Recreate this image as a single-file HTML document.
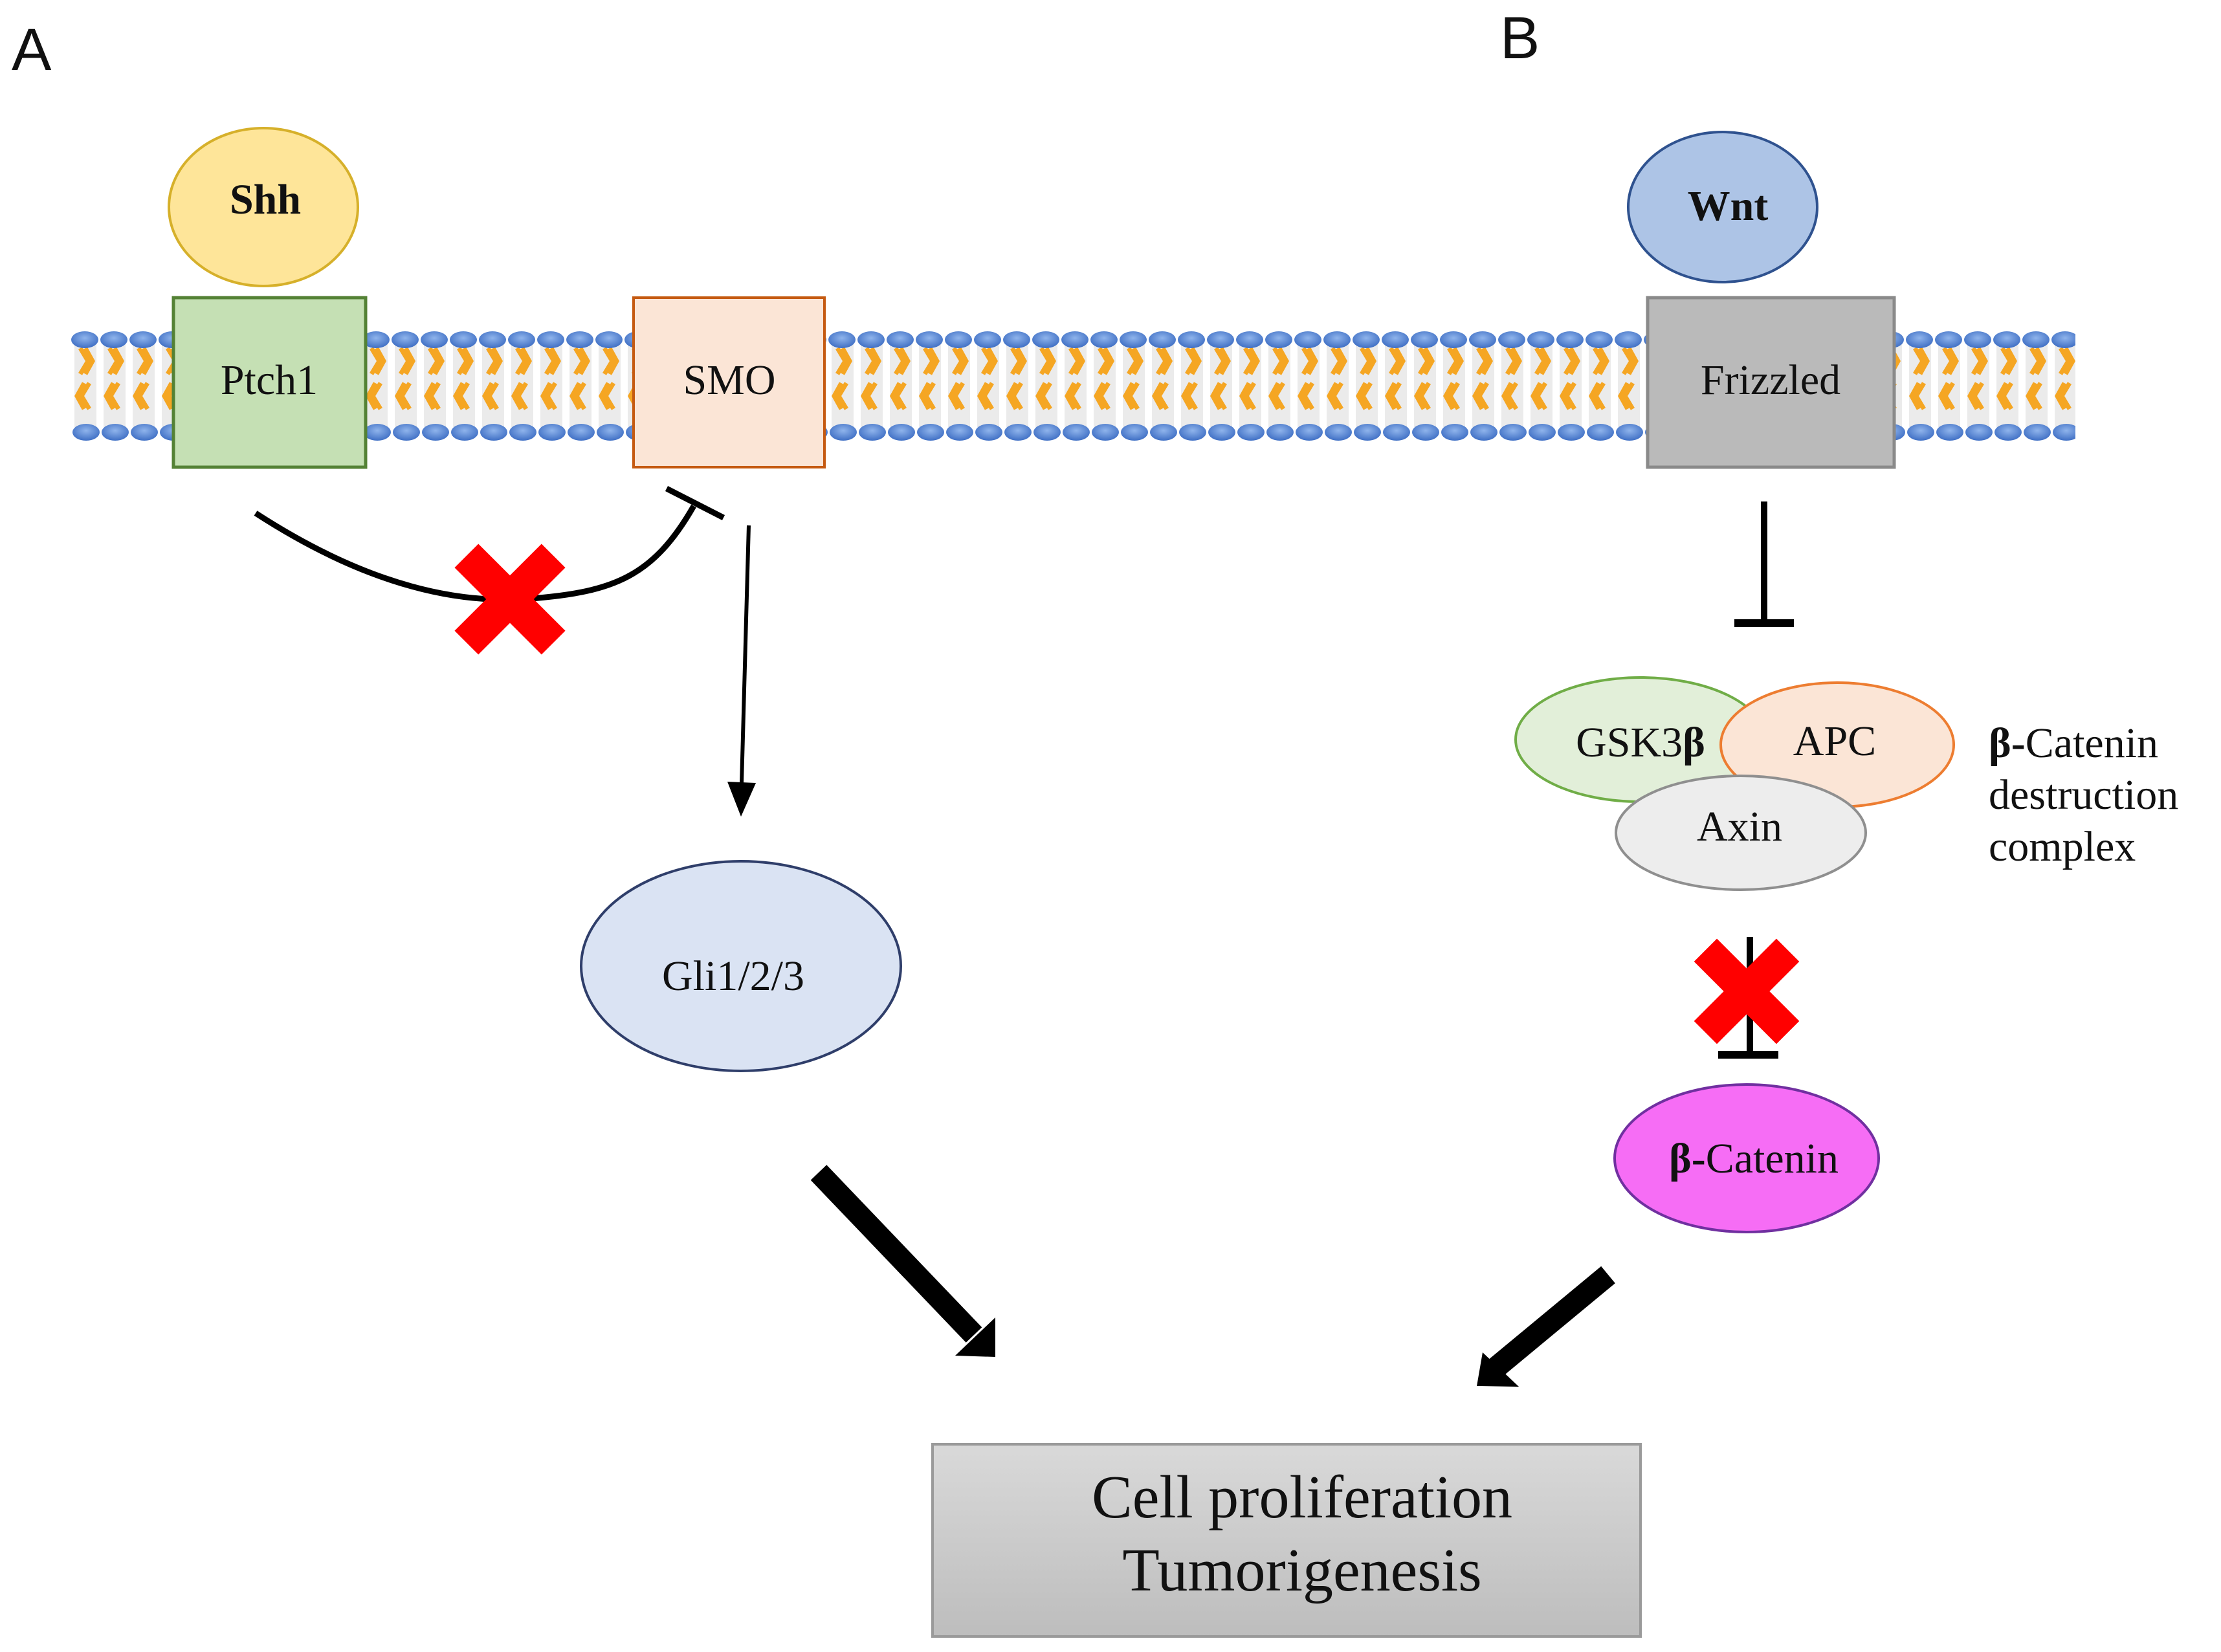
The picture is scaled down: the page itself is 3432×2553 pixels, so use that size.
<!DOCTYPE html>
<html><head><meta charset="utf-8"><style>
html,body{margin:0;padding:0;background:#fff;}
svg{display:block}
text{font-family:"Liberation Serif",serif;fill:#111}
</style></head><body>
<svg width="3432" height="2553" viewBox="0 0 3432 2553" xmlns="http://www.w3.org/2000/svg">
<defs>
<linearGradient id="boxg" x1="0" y1="0" x2="0" y2="1"><stop offset="0" stop-color="#d9d9d9"/><stop offset="1" stop-color="#bdbdbd"/></linearGradient>
<radialGradient id="head" cx="0.5" cy="0.4" r="0.6"><stop offset="0" stop-color="#8fb4ec"/><stop offset="1" stop-color="#3f6fc4"/></radialGradient>
<pattern id="mem" x="109" y="500" width="45" height="200" patternUnits="userSpaceOnUse">
<rect x="6" y="30" width="34" height="130" fill="#ebebeb"/>
<path d="M15 38 L27 58 L15 78 M23 38 L34 58 L23 78" stroke="#f5a623" stroke-width="7" fill="none"/>
<path d="M29 92 L17 112 L29 132 M21 92 L10 112 L21 132" stroke="#f5a623" stroke-width="7" fill="none"/>
<ellipse cx="22" cy="25" rx="21" ry="13" fill="url(#head)"/>
<ellipse cx="24" cy="168" rx="21" ry="13" fill="url(#head)"/>
</pattern>
</defs>
<rect width="3432" height="2553" fill="#fff"/>
<text x="18" y="108" style="font-family:'Liberation Sans',sans-serif" font-size="92">A</text>
<text x="2318" y="90" style="font-family:'Liberation Sans',sans-serif" font-size="92">B</text>

<rect x="109" y="500" width="3098" height="200" fill="url(#mem)"/>

<ellipse cx="407" cy="320" rx="146" ry="122" fill="#fee599" stroke="#d6b02a" stroke-width="4"/>
<text x="410" y="330" font-size="66" font-weight="bold" text-anchor="middle">Shh</text>
<rect x="268" y="460" width="297" height="262" fill="#c5e0b4" stroke="#548235" stroke-width="5"/>
<text x="416" y="609" font-size="66" text-anchor="middle">Ptch1</text>
<rect x="979" y="460" width="295" height="262" fill="#fbe5d6" stroke="#c55a11" stroke-width="4"/>
<text x="1127" y="609" font-size="66" text-anchor="middle">SMO</text>

<path d="M395 793 C560 900 700 935 820 925 C950 915 1010 890 1072 782" stroke="#000" stroke-width="9" fill="none"/>
<line x1="1030" y1="755" x2="1118" y2="800" stroke="#000" stroke-width="9"/>
<g transform="translate(788,926) rotate(45)"><rect x="-95" y="-26" width="190" height="52" fill="#f00"/><rect x="-26" y="-95" width="52" height="190" fill="#f00"/></g>

<line x1="1157" y1="812" x2="1146" y2="1210" stroke="#000" stroke-width="6"/>
<polygon points="1124,1208 1168,1210 1145,1262" fill="#000"/>

<ellipse cx="1145" cy="1493" rx="247" ry="162" fill="#dae3f3" stroke="#2f3e6a" stroke-width="4"/>
<text x="1133" y="1530" font-size="66" text-anchor="middle">Gli1/2/3</text>

<line x1="1265" y1="1812" x2="1505" y2="2063" stroke="#000" stroke-width="34"/>
<polygon points="1538,2036 1538,2097 1476,2095" fill="#000"/>

<ellipse cx="2662" cy="320" rx="146" ry="116" fill="#adc4e6" stroke="#2f528f" stroke-width="4"/>
<text x="2670" y="340" font-size="66" font-weight="bold" text-anchor="middle">Wnt</text>
<rect x="2546" y="460" width="381" height="262" fill="#bababa" stroke="#8a8a8a" stroke-width="5"/>
<text x="2736" y="609" font-size="66" text-anchor="middle" fill="#222">Frizzled</text>

<line x1="2726" y1="775" x2="2726" y2="965" stroke="#000" stroke-width="10"/>
<line x1="2680" y1="963" x2="2772" y2="963" stroke="#000" stroke-width="12"/>

<ellipse cx="2535" cy="1143" rx="193" ry="96" fill="#e2efd9" stroke="#70ad47" stroke-width="4"/>
<ellipse cx="2839" cy="1151" rx="180" ry="96" fill="#fbe5d6" stroke="#ed7d31" stroke-width="4"/>
<ellipse cx="2690" cy="1287" rx="193" ry="88" fill="#ededed" stroke="#8f8f8f" stroke-width="4"/>
<text x="2535" y="1169" font-size="66" text-anchor="middle">GSK3<tspan font-weight="bold">β</tspan></text>
<text x="2835" y="1167" font-size="66" text-anchor="middle">APC</text>
<text x="2688" y="1299" font-size="66" text-anchor="middle">Axin</text>
<text x="3073" y="1170" font-size="66"><tspan font-weight="bold">β-</tspan>Catenin</text>
<text x="3073" y="1250" font-size="66">destruction</text>
<text x="3073" y="1330" font-size="66">complex</text>

<line x1="2704" y1="1448" x2="2704" y2="1632" stroke="#000" stroke-width="10"/>
<line x1="2655" y1="1630" x2="2748" y2="1630" stroke="#000" stroke-width="12"/>
<g transform="translate(2699,1532) rotate(45)"><rect x="-90" y="-25" width="180" height="50" fill="#f00"/><rect x="-25" y="-90" width="50" height="180" fill="#f00"/></g>

<ellipse cx="2699" cy="1790" rx="204" ry="114" fill="#f66df5" stroke="#7030a0" stroke-width="4"/>
<text x="2710" y="1812" font-size="66" text-anchor="middle"><tspan font-weight="bold">β-</tspan>Catenin</text>

<line x1="2485" y1="1970" x2="2310" y2="2115" stroke="#000" stroke-width="34"/>
<polygon points="2291,2090 2282,2142 2347,2143" fill="#000"/>

<rect x="1441" y="2232" width="1094" height="297" fill="url(#boxg)" stroke="#9a9a9a" stroke-width="4"/>
<text x="2012" y="2345" font-size="94" text-anchor="middle">Cell proliferation</text>
<text x="2012" y="2458" font-size="94" text-anchor="middle">Tumorigenesis</text>
</svg>
</body></html>
